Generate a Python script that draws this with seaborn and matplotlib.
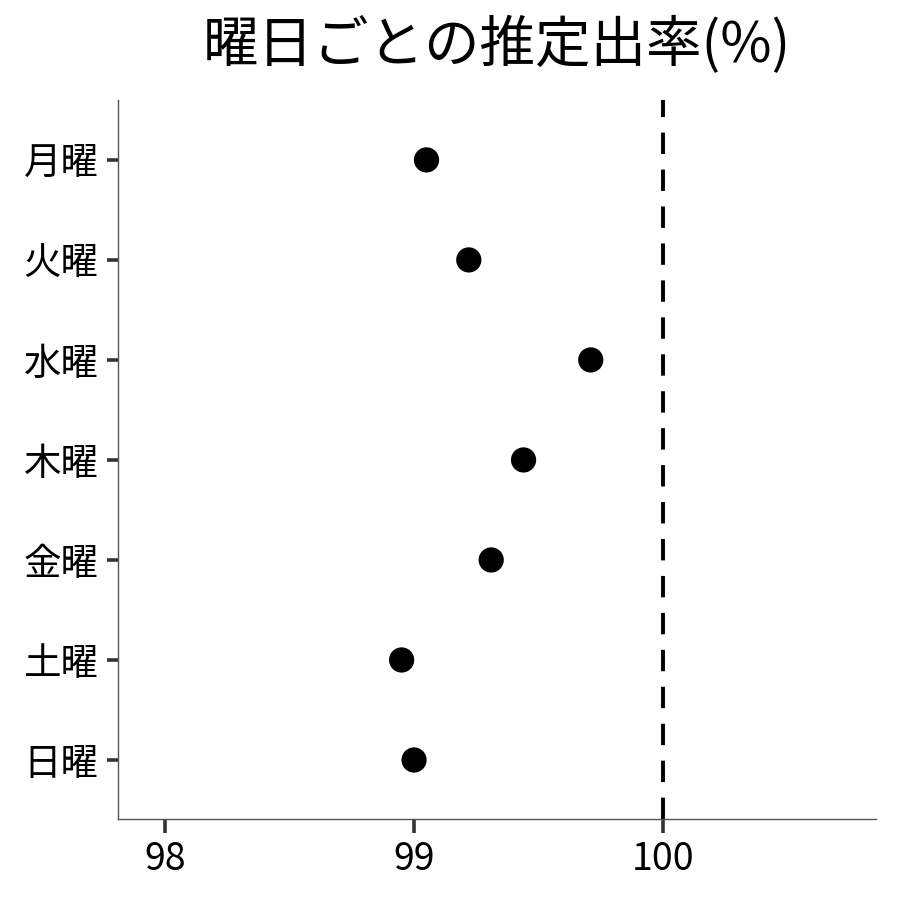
import matplotlib
matplotlib.use('Agg')
import matplotlib.pyplot as plt
import seaborn as sns
import pandas as pd

# データ
曜日 = ['月曜', '火曜', '水曜', '木曜', '金曜', '土曜', '日曜']
推定出率 = [99.05, 99.22, 99.71, 99.44, 99.31, 98.95, 99.00]
x目盛 = [98, 99, 100]

sns.set_theme(style='ticks')
plt.rcParams['font.family'] = ['Noto Sans CJK JP', 'DejaVu Sans']
plt.rcParams['xtick.bottom'] = True
plt.rcParams['ytick.left'] = True

df = pd.DataFrame({'曜日': 曜日, '出率': 推定出率})

fig, ax = plt.subplots(figsize=(9, 9), dpi=100)
fig.subplots_adjust(left=0.131, right=0.973, top=0.889, bottom=0.09)

sns.scatterplot(data=df, x='出率', y='曜日', color='black', s=330,
                edgecolor='none', ax=ax, zorder=3)
ax.axvline(100, color='black', lw=2.8, ls=(0, (5.5, 4)), zorder=2)

ax.set_xlim(97.81, 100.855)
ax.set_ylim(6.59, -0.6)
ax.set_xticks(x目盛)
ax.set_xticklabels([str(v) for v in x目盛])
ax.set_xlabel('')
ax.set_ylabel('')
ax.set_title('曜日ごとの推定出率(%)', fontsize=40, pad=27, color='black')

for side in ['top', 'right']:
    ax.spines[side].set_visible(False)
for side in ['left', 'bottom']:
    ax.spines[side].set_color('#555555')
    ax.spines[side].set_linewidth(1.0)

ax.xaxis.set_ticks_position('bottom')
ax.tick_params(axis='both', labelsize=27, colors='#333333', labelcolor='black',
               width=2.6, direction='out')
ax.tick_params(axis='y', left=True, length=8, pad=6)
ax.tick_params(axis='x', bottom=True, length=10, pad=5)
for t in ax.xaxis.get_major_ticks():
    t.tick1line.set_visible(True)
    t.tick1line.set_zorder(5)

plt.savefig('out.png', dpi=100)
